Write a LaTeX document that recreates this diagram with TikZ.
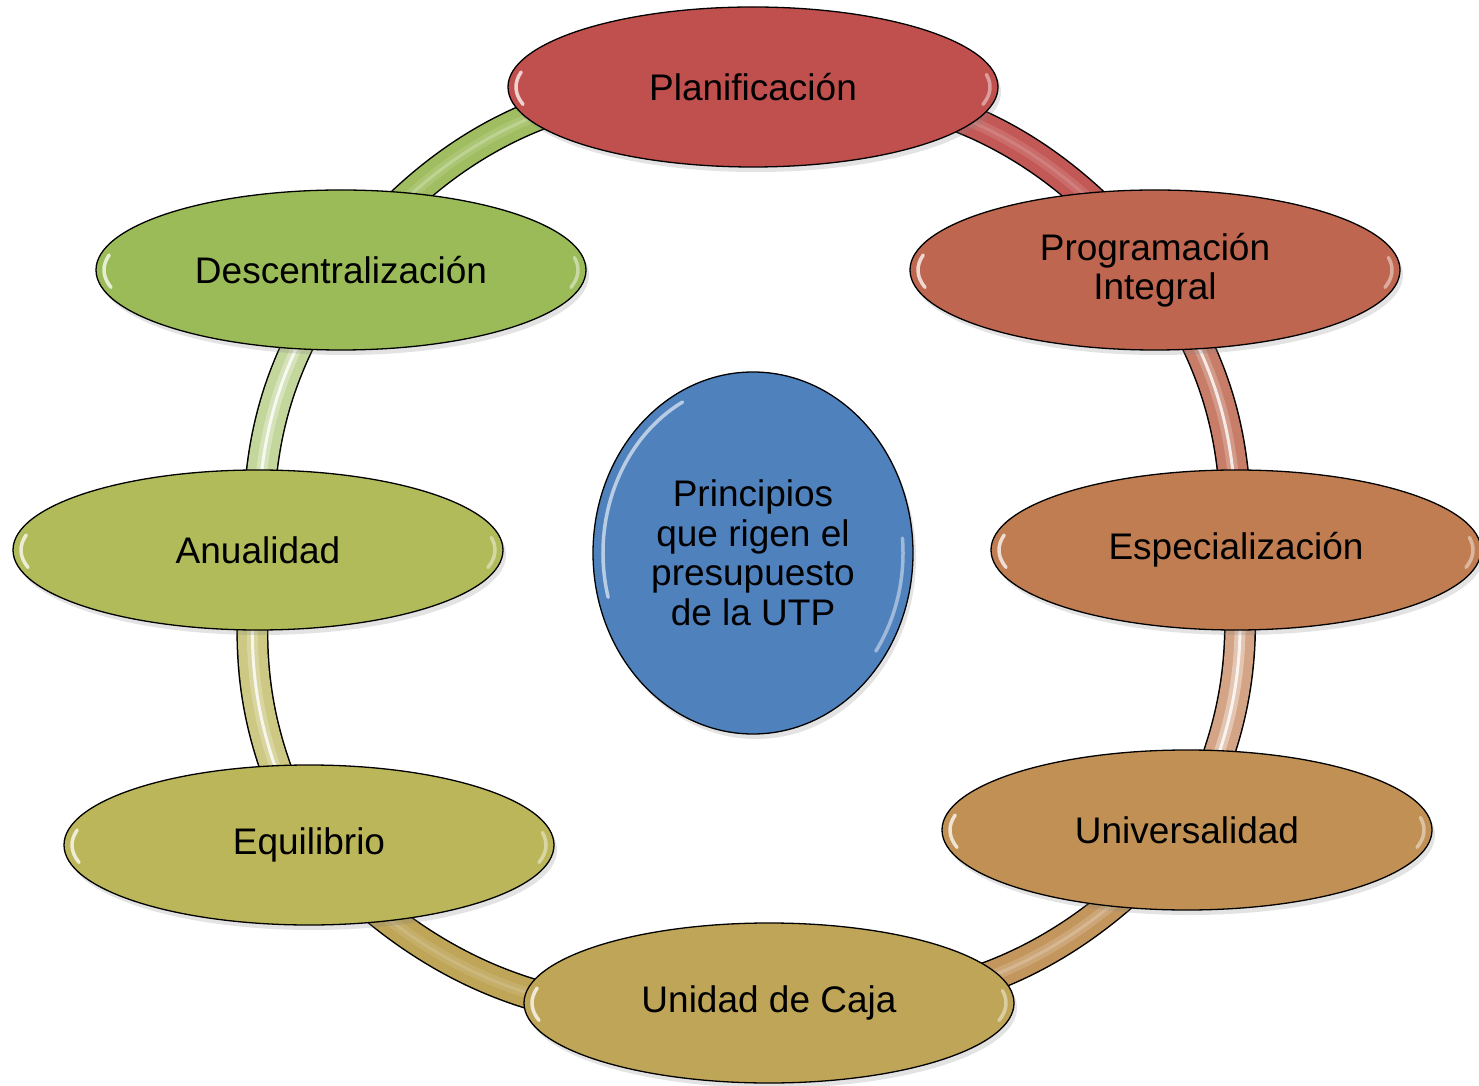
\documentclass[tikz,border=0pt]{standalone}
\usepackage{fontspec}
\setmainfont{Liberation Sans}
\usetikzlibrary{shapes.geometric,shadows,calc}
\pgfdeclarelayer{background}
\pgfsetlayers{background,main}
\definecolor{cPlan}{HTML}{C0504D}
\definecolor{cProg}{HTML}{BE664F}
\definecolor{cEspec}{HTML}{C07D51}
\definecolor{cUniv}{HTML}{C09055}
\definecolor{cCaja}{HTML}{BEA557}
\definecolor{cEquil}{HTML}{BCB65A}
\definecolor{cAnual}{HTML}{B1BB5A}
\definecolor{cDesc}{HTML}{9BBB59}
\definecolor{cCenter}{HTML}{4F81BD}
\tikzset{
  petal/.style={ellipse, draw=black, line width=1.3pt, minimum width=490pt,
    minimum height=160pt, inner sep=0pt, align=center,
    font=\fontsize{37}{39.5}\selectfont,
    drop shadow={shadow xshift=3pt, shadow yshift=-5pt, opacity=.22}},
  hub/.style={petal, minimum width=320pt, minimum height=362pt},
  bandedge/.style={black, line width=32pt},
  bandfill/.style={line width=29pt},
  bandlight/.style={line width=11pt, opacity=.75},
  bandshine/.style={line width=3pt, opacity=.8},
  gloss/.style={white, line width=3.5pt, line cap=round, opacity=.75},
}
\newcommand\ringband[6]{%
  \draw[bandedge] (#1.center) to[bend left=#3] (#2.center);
  \draw[bandfill,#4] (#1.center) to[bend left=#3] (#2.center);
  \draw[bandlight,#5] (#1.center) to[bend left=#3] (#2.center);
  \draw[bandshine,#6] (#1.center) to[bend left=#3] (#2.center);
}
\newcommand\glossy[3]{%
  \draw[gloss] ($(#1.center)+(194:#2-8 and #3-8)$) arc[start angle=194, end angle=168, x radius=#2-8, y radius=#3-8];
  \draw[gloss, opacity=.45] ($(#1.center)+(-14:#2-8 and #3-8)$) arc[start angle=-14, end angle=10, x radius=#2-8, y radius=#3-8];
}
\begin{document}
\begin{tikzpicture}[x=1pt,y=1pt]
\useasboundingbox (0,0) rectangle (1479,1085);

\node[petal, fill=cPlan]  (plan)  at (753,998) {Planificación};
\node[petal, fill=cProg]  (prog)  at (1155,815) {Programación\\Integral};
\node[petal, fill=cEspec] (espec) at (1236,535) {Especialización};
\node[petal, fill=cUniv]  (univ)  at (1187,255) {Universalidad};
\node[petal, fill=cCaja]  (caja)  at (769,82) {Unidad de Caja};
\node[petal, fill=cEquil] (equil) at (309,240) {Equilibrio};
\node[petal, fill=cAnual] (anual) at (258,535) {Anualidad};
\node[petal, fill=cDesc]  (desc)  at (341,815) {Descentralización};
\node[hub, fill=cCenter]  (hub)   at (753,532) {Principios\\que rigen el\\presupuesto\\de la UTP};

\foreach \n in {plan,prog,espec,univ,caja,equil,anual,desc}{\glossy{\n}{245}{80}}
\draw[gloss, opacity=.6] ($(hub.center)+(195:150 and 171)$) arc[start angle=195, end angle=118, x radius=150, y radius=171];
\draw[gloss, opacity=.45] ($(hub.center)+(-35:150 and 171)$) arc[start angle=-35, end angle=5, x radius=150, y radius=171];

\begin{pgfonlayer}{background}
\fill[white] (0,0) rectangle (1479,1085);
\ringband{plan}{prog}{27}{color=cPlan!95!white}{color=cPlan!80!white}{color=cPlan!70!white}
\ringband{prog}{espec}{17}{color=cProg!85!white}{color=cProg!60!white}{color=white}
\ringband{espec}{univ}{16}{color=cEspec!70!white}{color=cEspec!35!white}{color=white}
\ringband{univ}{caja}{27}{color=cUniv!95!white}{color=cUniv!75!white}{color=cUniv!60!white}
\ringband{caja}{equil}{29}{color=cCaja}{color=cCaja!85!white}{color=cCaja!75!white}
\ringband{equil}{anual}{17}{color=cEquil!75!white}{color=cEquil!50!white}{color=white}
\ringband{anual}{desc}{17}{color=cDesc!60!white}{color=cDesc!35!white}{color=white}
\ringband{desc}{plan}{28}{color=cDesc!95!white}{color=cDesc!80!white}{color=cDesc!60!white}
\end{pgfonlayer}
\end{tikzpicture}
\end{document}
